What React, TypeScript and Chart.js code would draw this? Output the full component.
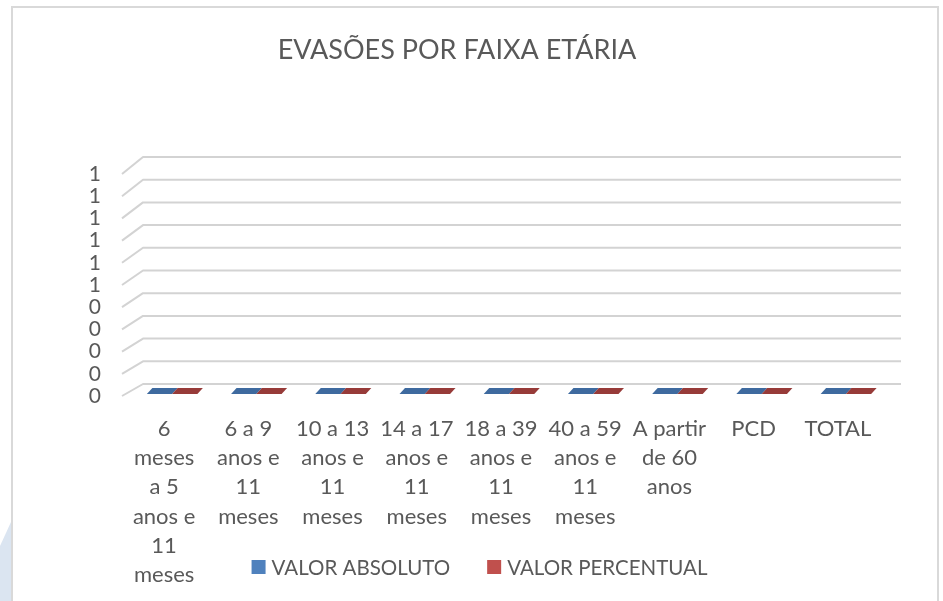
import React, { useEffect, useRef } from "react";
import { Chart, registerables } from "chart.js";

Chart.register(...registerables);

// ---------- data ----------
const TITLE = "EVASÕES POR FAIXA ETÁRIA";
const CATEGORIES: string[][] = [
  ["6", "meses", "a 5", "anos e", "11", "meses"],
  ["6 a 9", "anos e", "11", "meses"],
  ["10 a 13", "anos e", "11", "meses"],
  ["14 a 17", "anos e", "11", "meses"],
  ["18 a 39", "anos e", "11", "meses"],
  ["40 a 59", "anos e", "11", "meses"],
  ["A partir", "de 60", "anos"],
  ["PCD"],
  ["TOTAL"],
];
const SERIES_NAMES = ["VALOR ABSOLUTO", "VALOR PERCENTUAL"];
const VALOR_ABSOLUTO = [0, 0, 0, 0, 0, 0, 0, 0, 0];
const VALOR_PERCENTUAL = [0, 0, 0, 0, 0, 0, 0, 0, 0];
const Y_MIN = 0;
const Y_MAX = 1;
const Y_STEP = 0.1;

// ---------- style ----------
const FONT = "Lato, 'Open Sans', sans-serif";
const TEXT = "#595959";
const COLORS = ["#4f81bd", "#c0504d"];
const TOP_COLORS = ["#3e6a9f", "#973b39"];
const GRID = "#d3d3d3";
const W = 943;
const H = 601;
const DEPTH_DX = 21;

const excel3d = {
  id: "excel3d",
  beforeDraw(chart: any) {
    const { ctx, width, height } = chart;
    ctx.save();
    ctx.fillStyle = "#ffffff";
    ctx.fillRect(0, 0, width, height);
    // page decoration at bottom-left, outside the chart frame
    ctx.fillStyle = "#dbe5f1";
    ctx.beginPath();
    ctx.moveTo(11, 522);
    ctx.lineTo(0, 546);
    ctx.lineTo(0, height);
    ctx.lineTo(11, height);
    ctx.closePath();
    ctx.fill();
    // chart frame
    ctx.strokeStyle = "#d9d9d9";
    ctx.lineWidth = 2;
    ctx.strokeRect(12, 7, 926, height + 20);
    // title
    ctx.fillStyle = TEXT;
    ctx.font = `27px ${FONT}`;
    ctx.textAlign = "center";
    ctx.textBaseline = "middle";
    ctx.fillText(TITLE, 457, 50);
    ctx.restore();
  },
  beforeDatasetsDraw(chart: any) {
    const { ctx, chartArea } = chart;
    const y = chart.scales.y;
    ctx.save();
    ctx.strokeStyle = GRID;
    ctx.lineWidth = 2;
    ctx.lineJoin = "round";
    for (const t of y.ticks) {
      const v = t.value;
      const yf = y.getPixelForValue(v);
      const frac = (v - Y_MIN) / (Y_MAX - Y_MIN);
      const dy = 12 + 5 * frac;
      ctx.beginPath();
      ctx.moveTo(chartArea.left, yf);
      ctx.lineTo(chartArea.left + DEPTH_DX, yf - dy);
      ctx.lineTo(chartArea.right + DEPTH_DX, yf - dy);
      ctx.stroke();
    }
    ctx.restore();
  },
  afterDatasetsDraw(chart: any) {
    const { ctx } = chart;
    ctx.save();
    chart.data.datasets.forEach((_ds: any, d: number) => {
      const meta = chart.getDatasetMeta(d);
      meta.data.forEach((el: any) => {
        const p = el.getProps(["x", "y", "base", "width"], true);
        const left = p.x - p.width / 2;
        const right = p.x + p.width / 2;
        const top = Math.min(p.y, p.base);
        const bottom = Math.max(p.y, p.base);
        const fx = 8, fy = -2, bx = 13.5, by = -8;
        if (bottom - top > 0.5) {
          ctx.fillStyle = COLORS[d];
          ctx.fillRect(left + fx, top + fy, right - left, bottom - top);
        }
        ctx.fillStyle = TOP_COLORS[d];
        ctx.beginPath();
        ctx.moveTo(left + fx, top + fy);
        ctx.lineTo(right + fx, top + fy);
        ctx.lineTo(right + bx, top + by);
        ctx.lineTo(left + bx, top + by);
        ctx.closePath();
        ctx.fill();
      });
    });
    ctx.restore();
  },
  afterDraw(chart: any) {
    const { ctx } = chart;
    ctx.save();
    ctx.font = `20.5px ${FONT}`;
    ctx.textBaseline = "middle";
    ctx.textAlign = "left";
    const box = 14, gap = 6, between = 37;
    const items = chart.data.datasets.map((ds: any) => ({
      text: ds.label as string,
      color: ds.backgroundColor as string,
      w: ctx.measureText(ds.label).width,
    }));
    const total =
      items.reduce((s: number, it: any) => s + box + gap + it.w, 0) + between * (items.length - 1);
    let x = 479.5 - total / 2;
    const cy = 567;
    for (const it of items) {
      ctx.fillStyle = it.color;
      ctx.fillRect(x, cy - box / 2, box, box);
      ctx.fillStyle = TEXT;
      ctx.fillText(it.text, x + box + gap, cy + 1);
      x += box + gap + it.w + between;
    }
    ctx.restore();
  },
};

export default function App() {
  const ref = useRef<HTMLCanvasElement>(null);
  useEffect(() => {
    const canvas = ref.current!;
    const chart = new Chart(canvas, {
      type: "bar",
      data: {
        labels: CATEGORIES,
        datasets: [
          {
            label: SERIES_NAMES[0],
            data: VALOR_ABSOLUTO,
            backgroundColor: COLORS[0],
            borderWidth: 0,
            categoryPercentage: 0.6,
            barPercentage: 1,
          },
          {
            label: SERIES_NAMES[1],
            data: VALOR_PERCENTUAL,
            backgroundColor: COLORS[1],
            borderWidth: 0,
            categoryPercentage: 0.6,
            barPercentage: 1,
          },
        ],
      },
      options: {
        animation: false,
        responsive: false,
        maintainAspectRatio: false,
        devicePixelRatio: 1,
        layout: { padding: { left: 0, right: 63, top: 174, bottom: 0 } },
        plugins: {
          legend: { display: false },
          title: { display: false },
          tooltip: { enabled: false },
        },
        scales: {
          x: {
            grid: { display: false, drawTicks: false },
            border: { display: false },
            ticks: {
              color: TEXT,
              font: { family: FONT, size: 22, lineHeight: 1.332 },
              padding: 18,
              maxRotation: 0,
              minRotation: 0,
              autoSkip: false,
            },
            afterFit: (s: any) => {
              s.height = H - 396;
            },
          },
          y: {
            min: Y_MIN,
            max: Y_MAX,
            grid: { display: false, drawTicks: false },
            border: { display: false },
            ticks: {
              stepSize: Y_STEP,
              autoSkip: false,
              color: TEXT,
              font: { family: FONT, size: 21 },
              padding: 21,
              callback: (v: any) => String(Math.round(Number(v) + 1e-9)),
            },
            afterFit: (s: any) => {
              s.width = 122;
            },
          },
        },
      },
      plugins: [excel3d],
    } as any);
    return () => chart.destroy();
  }, []);
  return (
    <div style={{ position: "absolute", left: 0, top: 0, width: W, height: H, background: "#fff" }}>
      <canvas ref={ref} width={W} height={H} style={{ display: "block", width: W, height: H }} />
    </div>
  );
}
